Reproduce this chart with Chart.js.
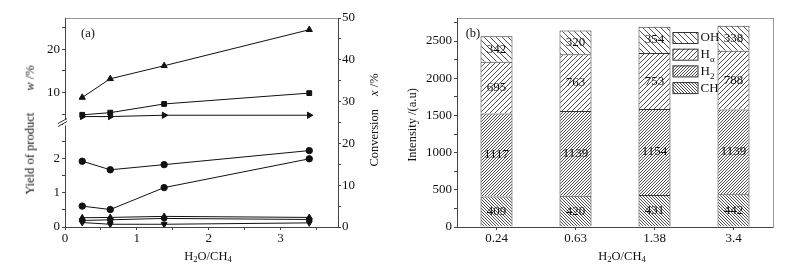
<!DOCTYPE html>
<html>
<head>
<meta charset="utf-8">
<script src="https://cdn.jsdelivr.net/npm/chart.js@4.4.1/dist/chart.umd.min.js"></script>
<style>
  html, body { margin: 0; padding: 0; background: #fff; }
  body { width: 786px; height: 269px; position: relative; overflow: hidden; font-family: "Liberation Serif", serif; color: #111; }
  canvas { position: absolute; top: 0; }
  #chartA { left: 0; }
  #chartB { left: 393px; }
  .lbl { position: absolute; font-size: 12.5px; font-weight: normal; white-space: nowrap; line-height: 1; transform: translate(-50%, -50%); }
  .rot { transform: translate(-50%, -50%) rotate(-90deg); }
  .gap { display: inline-block; }
  sub { font-size: 0.7em; vertical-align: -0.3em; line-height: 0; }
</style>
</head>
<body>
<canvas id="chartA" width="393" height="269" style="width:393px;height:269px"></canvas>
<canvas id="chartB" width="393" height="269" style="width:393px;height:269px"></canvas>
<div class="lbl" style="left:88px;top:33px">(a)</div>
<div class="lbl" style="left:473px;top:33px">(b)</div>
<div class="lbl rot" style="left:30px;top:130px">Yield of product<span class="gap" style="width:22px"></span><i>w</i> /%</div>
<div class="lbl rot" style="left:374px;top:120px">Conversion<span class="gap" style="width:13px"></span><i>x</i> /%</div>
<div class="lbl rot" style="left:412px;top:125px">Intensity /(a.u)</div>
<div class="lbl" style="left:208px;top:256px">H<sub>2</sub>O/CH<sub>4</sub></div>
<div class="lbl" style="left:622px;top:256px">H<sub>2</sub>O/CH<sub>4</sub></div>
<script>
// panel (a): yields vs H2O/CH4
const ratio = [0.24, 0.63, 1.38, 3.4];
// upper part of the broken axis
const triUp = [8.9, 13.2, 16.2, 24.5];
const squares = [4.9, 5.4, 7.4, 9.9];
const triRight = [4.5, 4.5, 4.8, 4.8];
// lower part
const dotsHigh = [1.92, 1.67, 1.82, 2.23];
const dotsLow = [0.61, 0.51, 1.15, 1.99];
const triSmall = [0.27, 0.28, 0.31, 0.28];
const dotsSmall = [0.19, 0.21, 0.25, 0.22];
const triDown = [0.13, 0.08, 0.08, 0.12];

// panel (b): stacked intensities
const ratioLabels = ['0.24', '0.63', '1.38', '3.4'];
const chValues = [409, 420, 431, 442];
const h2Values = [1117, 1139, 1154, 1139];
const hAlphaValues = [695, 763, 753, 788];
const ohValues = [342, 320, 354, 338];
const intensityTicks = [0, 250, 500, 750, 1000, 1250, 1500, 1750, 2000, 2250, 2500, 2750];

const tickFont = { family: 'Liberation Serif', size: 13 };
const axisColor = '#444';

function lineSet(values, axis, style, rotation = 0, radius = 3.2) {
  return {
    data: ratio.map((x, i) => ({ x, y: values[i] })),
    yAxisID: axis,
    borderColor: '#111', borderWidth: 1,
    pointStyle: style, pointRotation: rotation, pointRadius: radius,
    pointBackgroundColor: '#111', pointBorderColor: '#111', pointBorderWidth: 1,
    tension: 0,
  };
}

function hatch(spacing, dir, color = '#222', lw = 0.8) {
  const tile = document.createElement('canvas');
  tile.width = tile.height = spacing;
  const c = tile.getContext('2d');
  c.fillStyle = '#fff';
  c.fillRect(0, 0, spacing, spacing);
  c.strokeStyle = color;
  c.lineWidth = lw;
  c.beginPath();
  if (dir === '/') {
    c.moveTo(0, spacing); c.lineTo(spacing, 0);
    c.moveTo(-1, 1); c.lineTo(1, -1);
    c.moveTo(spacing - 1, spacing + 1); c.lineTo(spacing + 1, spacing - 1);
  } else {
    c.moveTo(0, 0); c.lineTo(spacing, spacing);
    c.moveTo(-1, spacing - 1); c.lineTo(1, spacing + 1);
    c.moveTo(spacing - 1, -1); c.lineTo(spacing + 1, 1);
  }
  c.stroke();
  return c.createPattern(tile, 'repeat');
}

const fixedWidth = (w) => (s) => { s.width = w; };
const fixedHeight = (h) => (s) => { s.height = h; };
const tickGrid = { drawOnChartArea: false, tickLength: 3, color: axisColor };

const axisBreak = {
  id: 'axisBreak',
  afterDraw(chart) {
    const { ctx } = chart;
    const s = chart.scales.yTop;
    const x = s.right, y = s.bottom;
    ctx.save();
    ctx.fillStyle = '#fff';
    ctx.fillRect(x - 2, y - 3, 4, 6);
    ctx.strokeStyle = '#333';
    ctx.lineWidth = 1;
    ctx.beginPath();
    ctx.moveTo(x - 7, y + 1); ctx.lineTo(x + 2, y - 4);
    ctx.moveTo(x - 7, y + 4); ctx.lineTo(x + 2, y - 1);
    ctx.stroke();
    ctx.restore();
  },
};

new Chart(document.getElementById('chartA'), {
  type: 'line',
  data: {
    datasets: [
      lineSet(triUp, 'yTop', 'triangle', 0, 3.6),
      lineSet(squares, 'yTop', 'rect', 0, 3.4),
      lineSet(triRight, 'yTop', 'triangle', 90, 3.6),
      lineSet(dotsHigh, 'yBot', 'circle'),
      lineSet(dotsLow, 'yBot', 'circle'),
      lineSet(triSmall, 'yBot', 'triangle', 0, 3.4),
      lineSet(dotsSmall, 'yBot', 'circle', 0, 2.8),
      lineSet(triDown, 'yBot', 'triangle', 180, 3.4),
    ],
  },
  options: {
    responsive: false, animation: false,
    layout: { padding: 0 },
    plugins: { legend: { display: false }, tooltip: { enabled: false } },
    scales: {
      x: {
        type: 'linear', min: 0, max: 3.8, afterFit: fixedHeight(42),
        border: { color: axisColor }, grid: tickGrid,
        ticks: { stepSize: 0.5, includeBounds: false, autoSkip: false, maxRotation: 0, padding: 1, font: tickFont, color: '#111',
          callback: (v) => Number.isInteger(v) ? v : '' },
      },
      xTop: {
        type: 'linear', position: 'top', min: 0, max: 1, afterFit: fixedHeight(18),
        border: { color: '#999' }, grid: { display: false }, ticks: { display: false },
      },
      yBot: {
        type: 'linear', position: 'left', stack: 'yield', stackWeight: 1, min: 0, max: 3.05, afterFit: fixedWidth(65),
        border: { color: axisColor }, grid: tickGrid,
        ticks: { stepSize: 0.5, includeBounds: false, autoSkip: false, padding: 2, font: tickFont, color: '#111',
          callback: (v) => Number.isInteger(v) && v < 3 ? v : '' },
      },
      yTop: {
        type: 'linear', position: 'left', stack: 'yield', stackWeight: 1, min: 3.13, max: 27.2, afterFit: fixedWidth(65),
        border: { color: axisColor }, grid: tickGrid,
        ticks: { stepSize: 5, includeBounds: false, autoSkip: false, padding: 2, font: tickFont, color: '#111',
          callback: (v) => v % 10 === 0 ? v : '' },
      },
      yR: {
        type: 'linear', position: 'right', min: 0, max: 50, afterFit: fixedWidth(55),
        border: { color: axisColor }, grid: tickGrid,
        ticks: { stepSize: 5, includeBounds: false, autoSkip: false, padding: 1, font: tickFont, color: '#111',
          callback: (v) => v % 10 === 0 ? v : '' },
      },
    },
  },
  plugins: [axisBreak],
});

const valueLabels = {
  id: 'valueLabels',
  afterDatasetsDraw(chart) {
    const { ctx } = chart;
    ctx.save();
    ctx.font = '13px "Liberation Serif"';
    ctx.fillStyle = '#111';
    ctx.textAlign = 'center';
    ctx.textBaseline = 'middle';
    chart.data.datasets.forEach((ds, di) => {
      chart.getDatasetMeta(di).data.forEach((bar, i) => {
        const { x, y, base } = bar.getProps(['x', 'y', 'base'], true);
        ctx.fillText(ds.data[i], x, (y + base) / 2);
      });
    });
    ctx.restore();
  },
};

const hatchLegend = {
  id: 'hatchLegend',
  afterDraw(chart) {
    const { ctx, chartArea } = chart;
    const left = chart.scales.x.getPixelForValue(2) + 18;
    ctx.save();
    chart.data.datasets.slice().reverse().forEach((ds, k) => {
      const top = chartArea.top + 14 + k * 16.7;
      ctx.fillStyle = ds.backgroundColor;
      ctx.fillRect(left, top, 25, 11);
      ctx.strokeStyle = '#333';
      ctx.lineWidth = 1;
      ctx.strokeRect(left + 0.5, top + 0.5, 25, 11);
      ctx.fillStyle = '#111';
      ctx.font = '13px "Liberation Serif"';
      ctx.textAlign = 'left';
      ctx.textBaseline = 'middle';
      ctx.fillText(ds.label, left + 28, top + 6);
      if (ds.sub) {
        const w = ctx.measureText(ds.label).width;
        ctx.font = '9px "Liberation Serif"';
        ctx.fillText(ds.sub, left + 28 + w, top + 11);
      }
    });
    ctx.restore();
  },
};

const barSet = (label, sub, values, fill) => ({
  label, sub, data: values,
  backgroundColor: fill, borderColor: '#333', borderWidth: 1,
  barPercentage: 0.405, categoryPercentage: 1,
});

new Chart(document.getElementById('chartB'), {
  type: 'bar',
  data: {
    labels: ratioLabels,
    datasets: [
      barSet('CH', '', chValues, hatch(3, '\\')),
      barSet('H', '2', h2Values, hatch(3, '/')),
      barSet('H', 'α', hAlphaValues, hatch(5, '/')),
      barSet('OH', '', ohValues, hatch(6, '\\')),
    ],
  },
  options: {
    responsive: false, animation: false,
    layout: { padding: 0 },
    plugins: { legend: { display: false }, tooltip: { enabled: false } },
    scales: {
      x: {
        stacked: true, afterFit: fixedHeight(42),
        border: { color: axisColor }, grid: { ...tickGrid, offset: false },
        ticks: { maxRotation: 0, padding: 1, font: tickFont, color: '#111' },
      },
      xTop: {
        type: 'linear', position: 'top', min: 0, max: 1, afterFit: fixedHeight(18),
        border: { color: '#999' }, grid: { display: false }, ticks: { display: false },
      },
      y: {
        stacked: true, min: 0, max: 2810, afterFit: fixedWidth(64),
        afterBuildTicks: (s) => { s.ticks = intensityTicks.map((value) => ({ value })); },
        border: { color: axisColor }, grid: tickGrid,
        ticks: { autoSkip: false, padding: 2, font: tickFont, color: '#111',
          callback: (v) => v % 500 === 0 ? v : '' },
      },
      yRight: {
        type: 'linear', position: 'right', min: 0, max: 1, afterFit: fixedWidth(13),
        border: { color: '#999' }, grid: { display: false }, ticks: { display: false },
      },
    },
  },
  plugins: [valueLabels, hatchLegend],
});
</script>
</body>
</html>
